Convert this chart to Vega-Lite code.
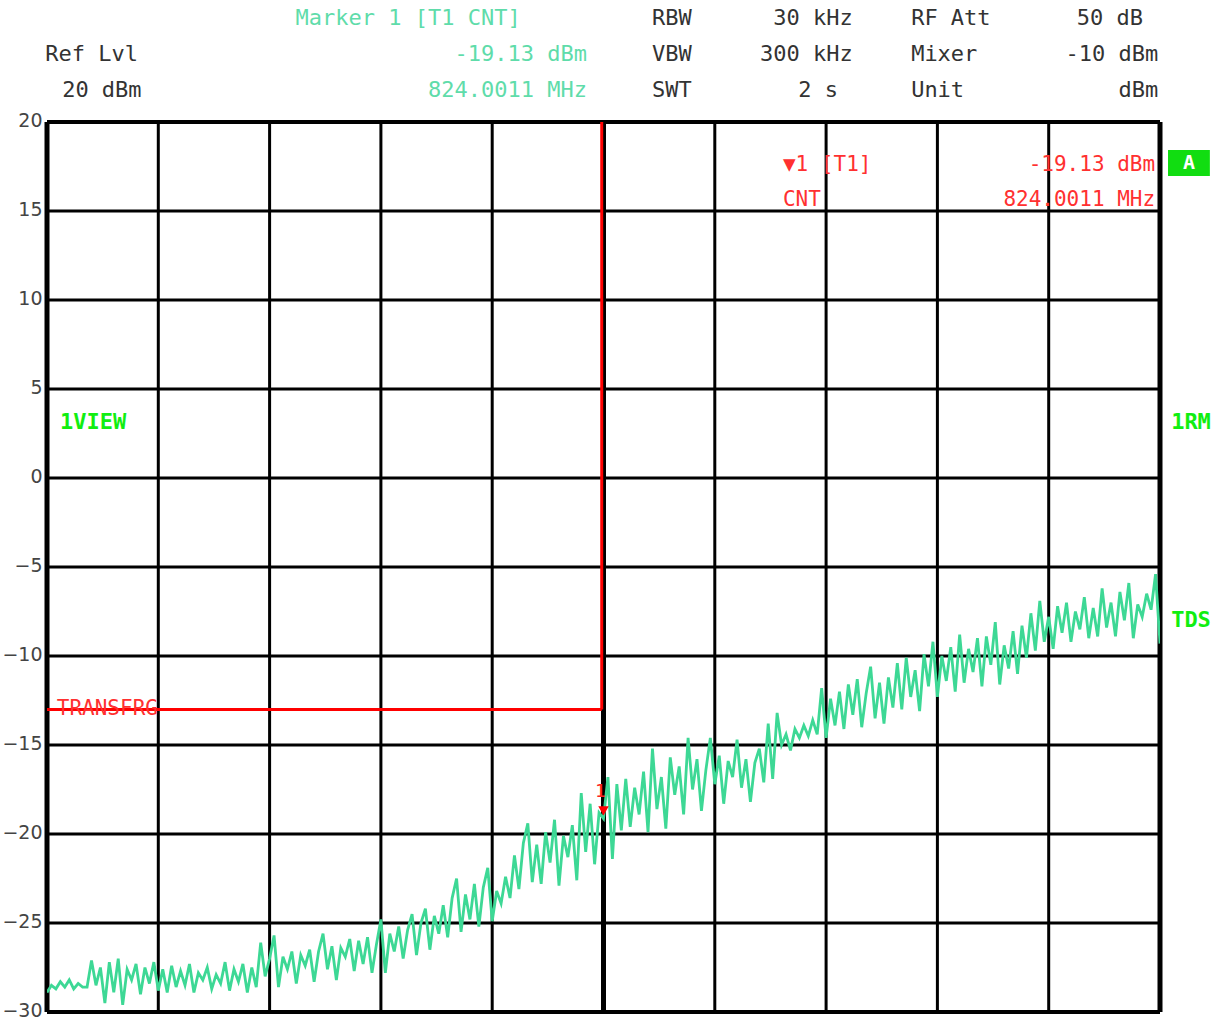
{
  "$schema": "https://vega.github.io/schema/vega-lite/v6.json",
  "autosize": "none",
  "width": 1113,
  "height": 890,
  "padding": {"left": 47, "top": 122, "right": 68, "bottom": 7},
  "background": "white",
  "config": {"view": {"stroke": null}},
  "datasets": {
    "trace": [
      {"i":0,"v":-28.9},{"i":1,"v":-28.5},{"i":2,"v":-28.7},{"i":3,"v":-28.3},{"i":4,"v":-28.6},{"i":5,"v":-28.2},{"i":6,"v":-28.7},{"i":7,"v":-28.4},{"i":8,"v":-28.6},{"i":9,"v":-28.6},
      {"i":10,"v":-27.1},{"i":11,"v":-28.5},{"i":12,"v":-27.5},{"i":13,"v":-29.5},{"i":14,"v":-27.2},{"i":15,"v":-28.9},{"i":16,"v":-27.0},{"i":17,"v":-29.6},{"i":18,"v":-27.6},{"i":19,"v":-28.2},
      {"i":20,"v":-27.3},{"i":21,"v":-29.0},{"i":22,"v":-27.5},{"i":23,"v":-28.4},{"i":24,"v":-27.2},{"i":25,"v":-28.8},{"i":26,"v":-27.6},{"i":27,"v":-28.9},{"i":28,"v":-27.4},{"i":29,"v":-28.6},
      {"i":30,"v":-27.7},{"i":31,"v":-28.5},{"i":32,"v":-27.3},{"i":33,"v":-28.9},{"i":34,"v":-27.8},{"i":35,"v":-28.2},{"i":36,"v":-27.5},{"i":37,"v":-28.7},{"i":38,"v":-27.9},{"i":39,"v":-28.4},
      {"i":40,"v":-27.2},{"i":41,"v":-28.8},{"i":42,"v":-27.6},{"i":43,"v":-28.3},{"i":44,"v":-27.3},{"i":45,"v":-28.9},{"i":46,"v":-27.5},{"i":47,"v":-28.6},{"i":48,"v":-26.1},{"i":49,"v":-28.0},
      {"i":50,"v":-27.0},{"i":51,"v":-25.7},{"i":52,"v":-28.6},{"i":53,"v":-26.9},{"i":54,"v":-27.6},{"i":55,"v":-26.6},{"i":56,"v":-28.4},{"i":57,"v":-26.8},{"i":58,"v":-27.4},{"i":59,"v":-26.5},
      {"i":60,"v":-28.3},{"i":61,"v":-26.6},{"i":62,"v":-25.6},{"i":63,"v":-27.6},{"i":64,"v":-26.3},{"i":65,"v":-28.2},{"i":66,"v":-26.4},{"i":67,"v":-26.9},{"i":68,"v":-25.9},{"i":69,"v":-27.7},
      {"i":70,"v":-26.0},{"i":71,"v":-27.3},{"i":72,"v":-25.8},{"i":73,"v":-27.8},{"i":74,"v":-26.2},{"i":75,"v":-24.8},{"i":76,"v":-27.8},{"i":77,"v":-25.6},{"i":78,"v":-26.6},{"i":79,"v":-25.2},
      {"i":80,"v":-27.0},{"i":81,"v":-25.4},{"i":82,"v":-24.5},{"i":83,"v":-26.8},{"i":84,"v":-25.0},{"i":85,"v":-24.2},{"i":86,"v":-26.5},{"i":87,"v":-24.6},{"i":88,"v":-25.6},{"i":89,"v":-24.0},
      {"i":90,"v":-25.8},{"i":91,"v":-23.6},{"i":92,"v":-22.5},{"i":93,"v":-25.5},{"i":94,"v":-23.4},{"i":95,"v":-24.8},{"i":96,"v":-22.8},{"i":97,"v":-25.2},{"i":98,"v":-23.0},{"i":99,"v":-21.9},
      {"i":100,"v":-24.9},{"i":101,"v":-23.2},{"i":102,"v":-23.9},{"i":103,"v":-22.4},{"i":104,"v":-23.6},{"i":105,"v":-21.2},{"i":106,"v":-23.1},{"i":107,"v":-20.5},{"i":108,"v":-19.4},{"i":109,"v":-22.7},
      {"i":110,"v":-20.6},{"i":111,"v":-22.8},{"i":112,"v":-19.9},{"i":113,"v":-21.6},{"i":114,"v":-19.2},{"i":115,"v":-22.9},{"i":116,"v":-20.1},{"i":117,"v":-21.3},{"i":118,"v":-19.5},{"i":119,"v":-22.6},
      {"i":120,"v":-17.7},{"i":121,"v":-21.0},{"i":122,"v":-18.3},{"i":123,"v":-21.7},{"i":124,"v":-18.8},{"i":125,"v":-19.13},{"i":126,"v":-16.8},{"i":127,"v":-21.4},{"i":128,"v":-17.2},{"i":129,"v":-19.8},
      {"i":130,"v":-16.9},{"i":131,"v":-19.6},{"i":132,"v":-17.4},{"i":133,"v":-18.9},{"i":134,"v":-16.5},{"i":135,"v":-19.9},{"i":136,"v":-15.2},{"i":137,"v":-18.6},{"i":138,"v":-16.8},{"i":139,"v":-19.7},
      {"i":140,"v":-15.7},{"i":141,"v":-17.8},{"i":142,"v":-16.2},{"i":143,"v":-18.9},{"i":144,"v":-14.6},{"i":145,"v":-17.5},{"i":146,"v":-15.8},{"i":147,"v":-18.7},{"i":148,"v":-16.4},{"i":149,"v":-14.6},
      {"i":150,"v":-17.2},{"i":151,"v":-15.6},{"i":152,"v":-18.3},{"i":153,"v":-15.9},{"i":154,"v":-16.8},{"i":155,"v":-14.7},{"i":156,"v":-17.4},{"i":157,"v":-15.8},{"i":158,"v":-18.2},{"i":159,"v":-16.0},
      {"i":160,"v":-15.2},{"i":161,"v":-17.1},{"i":162,"v":-13.8},{"i":163,"v":-16.9},{"i":164,"v":-13.2},{"i":165,"v":-15.0},{"i":166,"v":-14.4},{"i":167,"v":-15.3},{"i":168,"v":-14.1},{"i":169,"v":-14.6},
      {"i":170,"v":-13.9},{"i":171,"v":-14.5},{"i":172,"v":-13.6},{"i":173,"v":-14.4},{"i":174,"v":-11.8},{"i":175,"v":-14.6},{"i":176,"v":-12.4},{"i":177,"v":-13.9},{"i":178,"v":-12.0},{"i":179,"v":-14.1},
      {"i":180,"v":-11.6},{"i":181,"v":-13.3},{"i":182,"v":-11.3},{"i":183,"v":-14.0},{"i":184,"v":-12.1},{"i":185,"v":-10.6},{"i":186,"v":-13.5},{"i":187,"v":-11.5},{"i":188,"v":-13.8},{"i":189,"v":-11.2},
      {"i":190,"v":-12.9},{"i":191,"v":-10.4},{"i":192,"v":-13.0},{"i":193,"v":-10.1},{"i":194,"v":-12.3},{"i":195,"v":-10.8},{"i":196,"v":-13.1},{"i":197,"v":-9.9},{"i":198,"v":-11.7},{"i":199,"v":-9.2},
      {"i":200,"v":-12.3},{"i":201,"v":-10.0},{"i":202,"v":-11.4},{"i":203,"v":-9.5},{"i":204,"v":-12.0},{"i":205,"v":-8.8},{"i":206,"v":-11.5},{"i":207,"v":-9.6},{"i":208,"v":-10.9},{"i":209,"v":-9.0},
      {"i":210,"v":-11.7},{"i":211,"v":-8.9},{"i":212,"v":-10.5},{"i":213,"v":-8.1},{"i":214,"v":-11.6},{"i":215,"v":-9.4},{"i":216,"v":-10.7},{"i":217,"v":-8.6},{"i":218,"v":-11.0},{"i":219,"v":-8.3},
      {"i":220,"v":-10.1},{"i":221,"v":-7.6},{"i":222,"v":-9.7},{"i":223,"v":-6.9},{"i":224,"v":-9.2},{"i":225,"v":-7.8},{"i":226,"v":-9.6},{"i":227,"v":-7.2},{"i":228,"v":-8.7},{"i":229,"v":-7.0},
      {"i":230,"v":-9.2},{"i":231,"v":-7.5},{"i":232,"v":-8.5},{"i":233,"v":-6.7},{"i":234,"v":-9.0},{"i":235,"v":-7.3},{"i":236,"v":-8.9},{"i":237,"v":-6.2},{"i":238,"v":-8.4},{"i":239,"v":-7.0},
      {"i":240,"v":-8.9},{"i":241,"v":-6.4},{"i":242,"v":-8.0},{"i":243,"v":-5.9},{"i":244,"v":-9.0},{"i":245,"v":-7.1},{"i":246,"v":-7.8},{"i":247,"v":-6.5},{"i":248,"v":-7.4},{"i":249,"v":-5.4},{"i":250,"v":-9.3}
    ],
    "gridH": [{"v":-25},{"v":-20},{"v":-15},{"v":-10},{"v":-5},{"v":0},{"v":5},{"v":10},{"v":15}],
    "gridV": [{"i":25},{"i":50},{"i":75},{"i":100},{"i":150},{"i":175},{"i":200},{"i":225}],
    "frameV": [{"i":0},{"i":125},{"i":250}],
    "frameH": [{"v":-30},{"v":20}],
    "limit": [
      {"i":0,"i2":124.6,"v":-13,"v2":-13},
      {"i":124.6,"i2":124.6,"v":-13,"v2":20}
    ],
    "marker": [{"i":125,"v":-18.7,"label":"1"}],
    "hdrBlackLeft": [
      {"i":-0.4,"v":23.82,"t":"Ref Lvl"},
      {"i":3.4,"v":21.8,"t":"20 dBm"},
      {"i":135.9,"v":25.84,"t":"RBW"},
      {"i":135.9,"v":23.82,"t":"VBW"},
      {"i":135.9,"v":21.8,"t":"SWT"},
      {"i":194.1,"v":25.84,"t":"RF Att"},
      {"i":194.1,"v":23.82,"t":"Mixer"},
      {"i":194.1,"v":21.8,"t":"Unit"}
    ],
    "hdrBlackRight": [
      {"i":181.0,"v":25.84,"t":"30 kHz"},
      {"i":181.0,"v":23.82,"t":"300 kHz"},
      {"i":177.7,"v":21.8,"t":"2 s"},
      {"i":246.2,"v":25.84,"t":"50 dB"},
      {"i":249.6,"v":23.82,"t":"-10 dBm"},
      {"i":249.6,"v":21.8,"t":"dBm"}
    ],
    "hdrGreenCenter": [{"i":81.1,"v":25.84,"t":"Marker 1 [T1 CNT]"}],
    "hdrGreenRight": [
      {"i":121.3,"v":23.82,"t":"-19.13 dBm"},
      {"i":121.3,"v":21.8,"t":"824.0011 MHz"}
    ],
    "redLeft": [
      {"i":165.3,"v":17.58,"t":"▼1 [T1]"},
      {"i":165.3,"v":15.62,"t":"CNT"},
      {"i":2.2,"v":-12.98,"t":"TRANSFRG"}
    ],
    "redRight": [
      {"i":248.9,"v":17.58,"t":"-19.13 dBm"},
      {"i":248.9,"v":15.62,"t":"824.0011 MHz"}
    ],
    "statusGreen": [
      {"i":2.9,"v":3.15,"t":"1VIEW"},
      {"i":252.5,"v":3.15,"t":"1RM"},
      {"i":252.5,"v":-7.98,"t":"TDS"}
    ],
    "badge": [{"i":251.8,"i2":261.2,"v":18.43,"v2":16.97,"c":256.5,"m":17.7,"t":"A"}]
  },
  "layer": [
    {
      "data": {"name": "gridH"},
      "mark": {"type": "rule", "color": "black", "strokeWidth": 3},
      "encoding": {
        "y": {"field": "v", "type": "quantitative", "scale": {"domain": [-30, 20], "nice": false, "zero": false},
          "axis": {"values": [-30,-25,-20,-15,-10,-5,0,5,10,15,20], "domain": false, "ticks": false, "grid": false, "title": null,
            "labelFont": "DejaVu Sans", "labelFontSize": 19, "labelColor": "#444", "labelPadding": 5, "labelOffset": -2}}
      }
    },
    {
      "data": {"name": "gridV"},
      "mark": {"type": "rule", "color": "black", "strokeWidth": 3},
      "encoding": {
        "x": {"field": "i", "type": "quantitative", "scale": {"domain": [0, 250], "nice": false, "zero": false}, "axis": null}
      }
    },
    {
      "data": {"name": "frameV"},
      "mark": {"type": "rule", "color": "black", "strokeWidth": 5},
      "encoding": {"x": {"field": "i", "type": "quantitative"}}
    },
    {
      "data": {"name": "frameH"},
      "mark": {"type": "rule", "color": "black", "strokeWidth": 4},
      "encoding": {"y": {"field": "v", "type": "quantitative"}}
    },
    {
      "data": {"name": "trace"},
      "mark": {"type": "line", "color": "#3dd895", "strokeWidth": 2.8, "interpolate": "linear", "clip": true},
      "encoding": {
        "x": {"field": "i", "type": "quantitative"},
        "y": {"field": "v", "type": "quantitative"}
      }
    },
    {
      "data": {"name": "limit"},
      "mark": {"type": "rule", "color": "#ff0000", "strokeWidth": 3},
      "encoding": {
        "x": {"field": "i", "type": "quantitative"},
        "x2": {"field": "i2"},
        "y": {"field": "v", "type": "quantitative"},
        "y2": {"field": "v2"}
      }
    },
    {
      "data": {"name": "marker"},
      "mark": {"type": "point", "shape": "triangle-down", "filled": true, "color": "#ff0000", "size": 110, "opacity": 1},
      "encoding": {
        "x": {"field": "i", "type": "quantitative"},
        "y": {"field": "v", "type": "quantitative"}
      }
    },
    {
      "data": {"name": "marker"},
      "mark": {"type": "text", "color": "#ff2020", "font": "DejaVu Sans Mono", "fontSize": 18, "align": "center", "baseline": "bottom", "dx": -3, "dy": -10},
      "encoding": {
        "x": {"field": "i", "type": "quantitative"},
        "y": {"field": "v", "type": "quantitative"},
        "text": {"field": "label"}
      }
    },
    {
      "data": {"name": "hdrBlackLeft"},
      "mark": {"type": "text", "color": "#333", "font": "DejaVu Sans Mono", "fontSize": 22, "align": "left", "baseline": "middle"},
      "encoding": {
        "x": {"field": "i", "type": "quantitative"},
        "y": {"field": "v", "type": "quantitative"},
        "text": {"field": "t"}
      }
    },
    {
      "data": {"name": "hdrBlackRight"},
      "mark": {"type": "text", "color": "#333", "font": "DejaVu Sans Mono", "fontSize": 22, "align": "right", "baseline": "middle"},
      "encoding": {
        "x": {"field": "i", "type": "quantitative"},
        "y": {"field": "v", "type": "quantitative"},
        "text": {"field": "t"}
      }
    },
    {
      "data": {"name": "hdrGreenCenter"},
      "mark": {"type": "text", "color": "#5fdcaa", "font": "DejaVu Sans Mono", "fontSize": 22, "align": "center", "baseline": "middle"},
      "encoding": {
        "x": {"field": "i", "type": "quantitative"},
        "y": {"field": "v", "type": "quantitative"},
        "text": {"field": "t"}
      }
    },
    {
      "data": {"name": "hdrGreenRight"},
      "mark": {"type": "text", "color": "#5fdcaa", "font": "DejaVu Sans Mono", "fontSize": 22, "align": "right", "baseline": "middle"},
      "encoding": {
        "x": {"field": "i", "type": "quantitative"},
        "y": {"field": "v", "type": "quantitative"},
        "text": {"field": "t"}
      }
    },
    {
      "data": {"name": "redLeft"},
      "mark": {"type": "text", "color": "#ff3030", "font": "DejaVu Sans Mono", "fontSize": 21, "align": "left", "baseline": "middle"},
      "encoding": {
        "x": {"field": "i", "type": "quantitative"},
        "y": {"field": "v", "type": "quantitative"},
        "text": {"field": "t"}
      }
    },
    {
      "data": {"name": "redRight"},
      "mark": {"type": "text", "color": "#ff3030", "font": "DejaVu Sans Mono", "fontSize": 21, "align": "right", "baseline": "middle"},
      "encoding": {
        "x": {"field": "i", "type": "quantitative"},
        "y": {"field": "v", "type": "quantitative"},
        "text": {"field": "t"}
      }
    },
    {
      "data": {"name": "statusGreen"},
      "mark": {"type": "text", "color": "#11ee11", "font": "DejaVu Sans Mono", "fontWeight": "bold", "fontSize": 22, "align": "left", "baseline": "middle"},
      "encoding": {
        "x": {"field": "i", "type": "quantitative"},
        "y": {"field": "v", "type": "quantitative"},
        "text": {"field": "t"}
      }
    },
    {
      "data": {"name": "badge"},
      "mark": {"type": "rect", "color": "#11dd11", "opacity": 1},
      "encoding": {
        "x": {"field": "i", "type": "quantitative"},
        "x2": {"field": "i2"},
        "y": {"field": "v", "type": "quantitative"},
        "y2": {"field": "v2"}
      }
    },
    {
      "data": {"name": "badge"},
      "mark": {"type": "text", "color": "white", "font": "DejaVu Sans Mono", "fontWeight": "bold", "fontSize": 20, "align": "center", "baseline": "middle"},
      "encoding": {
        "x": {"field": "c", "type": "quantitative"},
        "y": {"field": "m", "type": "quantitative"},
        "text": {"field": "t"}
      }
    }
  ]
}
